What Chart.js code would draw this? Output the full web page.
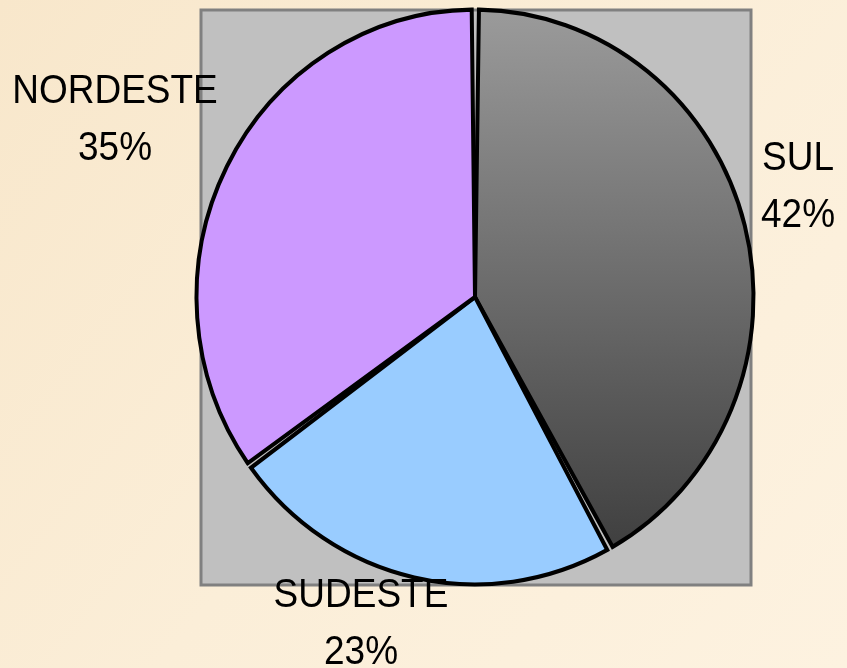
<!DOCTYPE html>
<html>
<head>
<meta charset="utf-8">
<script src="https://cdn.jsdelivr.net/npm/chart.js@4/dist/chart.umd.min.js"></script>
<style>
    html, body { margin: 0; padding: 0; background: #fcefd9; }
    #wrap { position: relative; width: 847px; height: 668px; }
    canvas { display: block; }
</style>
</head>
<body>
<div id="wrap"><canvas id="chart" width="847" height="668"></canvas></div>
<script>
    "use strict";

    var regions = ["SUL", "SUDESTE", "NORDESTE"];
    var shares = [42, 23, 35];
    var shareLabels = ["42%", "23%", "35%"];
    var sliceColors = [null, "#99CCFF", "#CC99FF"];

    // the original picture is a bit taller than wide
    var STRETCH_Y = 1.032;

    // where each text block sits (center x, first baseline y)
    var labelSpots = [
        {x: 798, y: 170},
        {x: 361, y: 607},
        {x: 115, y: 103},
    ];

    function sulGradient(context) {
        var chart = context.chart;
        var g = chart.ctx.createLinearGradient(0, 10, 0, 560);
        g.addColorStop(0, "#9c9c9c");
        g.addColorStop(1, "#3c3c3c");
        return g;
    }

    var paperPlugin = {
        id: 'paper',
        beforeDraw: function (chart) {
            var ctx = chart.ctx;
            ctx.save();
            // parchment background
            var bg = ctx.createLinearGradient(0, 0, chart.width, chart.height);
            bg.addColorStop(0, "#f8e7cb");
            bg.addColorStop(0.5, "#fbeed8");
            bg.addColorStop(1, "#fdf2e0");
            ctx.fillStyle = bg;
            ctx.fillRect(0, 0, chart.width, chart.height);

            // gray plot box behind the pie
            var arc = chart.getDatasetMeta(0).data[0];
            var cx = arc.x, cy = arc.y;
            ctx.fillStyle = "#c0c0c0";
            ctx.fillRect(cx - 274, cy - 287, 550, 575);
            ctx.strokeStyle = "#808080";
            ctx.lineWidth = 3;
            ctx.strokeRect(cx - 274, cy - 287, 550, 575);
            ctx.restore();
        },
        beforeDatasetsDraw: function (chart) {
            var arc = chart.getDatasetMeta(0).data[0];
            var ctx = chart.ctx;
            ctx.save();
            ctx.translate(arc.x, arc.y);
            ctx.scale(1, STRETCH_Y);
            ctx.translate(-arc.x, -arc.y);
        },
        afterDatasetsDraw: function (chart) {
            chart.ctx.restore();
        },
        afterDraw: function (chart) {
            var ctx = chart.ctx;
            ctx.save();
            ctx.fillStyle = "#000";
            ctx.textAlign = "center";
            ctx.textBaseline = "alphabetic";
            ctx.font = "37px 'Liberation Sans', Arial, sans-serif";
            regions.forEach(function (name, i) {
                var spot = labelSpots[i];
                var lines = [name, shareLabels[i]];
                lines.forEach(function (text, k) {
                    ctx.save();
                    ctx.translate(spot.x, spot.y + k * 57);
                    ctx.scale(1, 1.1);
                    ctx.fillText(text, 0, 0);
                    ctx.restore();
                });
            });
            ctx.restore();
        },
    };

    var ctx = document.getElementById('chart');
    new Chart(ctx, {
        type: 'pie',
        data: {
            labels: regions,
            datasets: [{
                data: shares,
                backgroundColor: function (context) {
                    if (context.dataIndex === 0) {
                        return sulGradient(context);
                    }
                    return sliceColors[context.dataIndex];
                },
                borderColor: "#000",
                borderWidth: 4,
                borderJoinStyle: 'miter',
                spacing: 3,
            }],
        },
        options: {
            responsive: false,
            animation: false,
            events: [],
            radius: 277,
            layout: {
                padding: {left: 103, right: 0, top: 0, bottom: 74},
            },
            plugins: {
                legend: {display: false},
                tooltip: {enabled: false},
            },
        },
        plugins: [paperPlugin],
    });
</script>
</body>
</html>
